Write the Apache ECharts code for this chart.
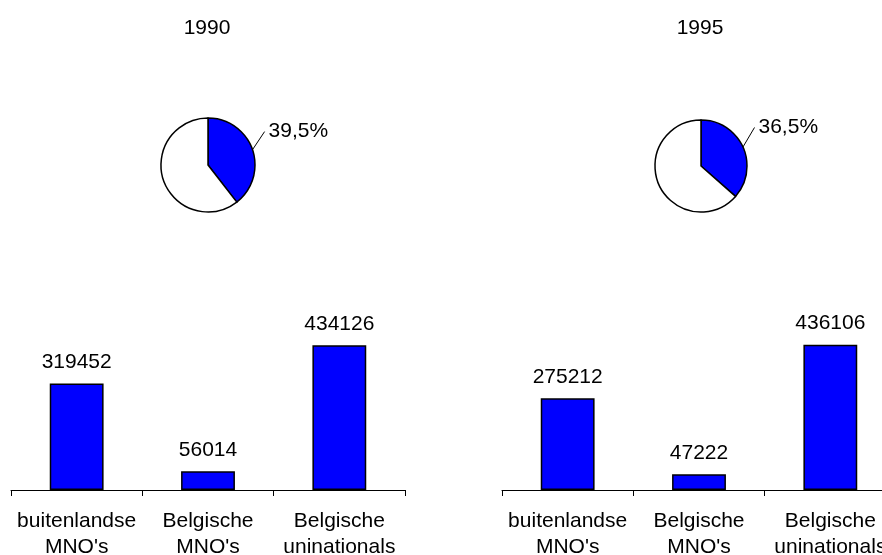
<!DOCTYPE html>
<html>
<head>
<meta charset="utf-8">
<script src="https://cdn.jsdelivr.net/npm/echarts@6/dist/echarts.min.js"></script>
<style>html,body{margin:0;padding:0;background:#fff}#c{width:882px;height:555px}</style>
</head>
<body>
<div id="c"></div>
<script>
const years = ['1990', '1995'];
const categories = ["buitenlandse\nMNO's", "Belgische\nMNO's", "Belgische\nuninationals"];
const values1990 = [319452, 56014, 434126];
const values1995 = [275212, 47222, 436106];
const pieShare1990 = [39.5, 60.5];
const pieShare1995 = [36.5, 63.5];

const FONT = '"Liberation Sans", Arial, sans-serif';
const chart = echarts.init(document.getElementById('c'), null, {renderer: 'canvas'});

function pieSeries(shares, center, radius) {
  return {
    type: 'pie',
    center: center,
    radius: radius,
    startAngle: 90,
    clockwise: true,
    animation: false,
    silent: true,
    itemStyle: {borderColor: '#000', borderWidth: 1.5},
    labelLine: {show: true, length: 16, length2: 2, lineStyle: {color: '#000', width: 1}},
    labelLayout: function (p) {
      const dx = -6, dy = -13;
      const r = p.labelRect;
      const res = {dx: dx, dy: dy};
      if (p.labelLinePoints && p.labelLinePoints.length) {
        const s = p.labelLinePoints[0];
        res.labelLinePoints = [[s[0], s[1]], [r.x + dx - 4, r.y + dy + r.height / 2]];
      }
      return res;
    },
    label: {
      position: 'outside', color: '#000', fontSize: 21, fontFamily: FONT,
      formatter: p => p.value.toFixed(1).replace('.', ',') + '%'
    },
    data: [
      {value: shares[0], itemStyle: {color: '#0000ff'}},
      {value: shares[1], itemStyle: {color: '#ffffff'}, label: {show: false}, labelLine: {show: false}}
    ]
  };
}

function barSeries(values, idx) {
  return {
    type: 'bar', xAxisIndex: idx, yAxisIndex: idx,
    data: values, barWidth: '41%', animation: false, silent: true,
    itemStyle: {color: '#0000ff', borderColor: '#000', borderWidth: 1.5},
    label: {show: true, position: 'top', distance: 11, color: '#000', fontSize: 21, fontFamily: FONT}
  };
}

const xAxisCommon = {
  type: 'category', data: categories,
  axisLine: {lineStyle: {color: '#000', width: 1}},
  axisTick: {show: true, length: 6, lineStyle: {color: '#000'}},
  axisLabel: {color: '#000', fontSize: 21, fontFamily: FONT, lineHeight: 26, margin: 18, interval: 0}
};
const yAxisCommon = {type: 'value', min: 0, max: 600000, show: false, splitLine: {show: false}};

chart.setOption({
  backgroundColor: '#fff',
  animation: false,
  title: [
    {text: years[0], left: 202, top: 13, textAlign: 'center', textStyle: {fontSize: 21, fontWeight: 'normal', color: '#000', fontFamily: FONT}},
    {text: years[1], left: 695, top: 13, textAlign: 'center', textStyle: {fontSize: 21, fontWeight: 'normal', color: '#000', fontFamily: FONT}}
  ],
  grid: [
    {left: 11, width: 394, top: 290, height: 200, outerBoundsMode: 'none', containLabel: false},
    {left: 502, width: 394, top: 290, height: 200, outerBoundsMode: 'none', containLabel: false}
  ],
  xAxis: [Object.assign({gridIndex: 0}, xAxisCommon), Object.assign({gridIndex: 1}, xAxisCommon)],
  yAxis: [Object.assign({gridIndex: 0}, yAxisCommon), Object.assign({gridIndex: 1}, yAxisCommon)],
  series: [
    pieSeries(pieShare1990, [208, 165], 47),
    pieSeries(pieShare1995, [701, 166], 46),
    barSeries(values1990, 0),
    barSeries(values1995, 1)
  ]
});
</script>
</body>
</html>
